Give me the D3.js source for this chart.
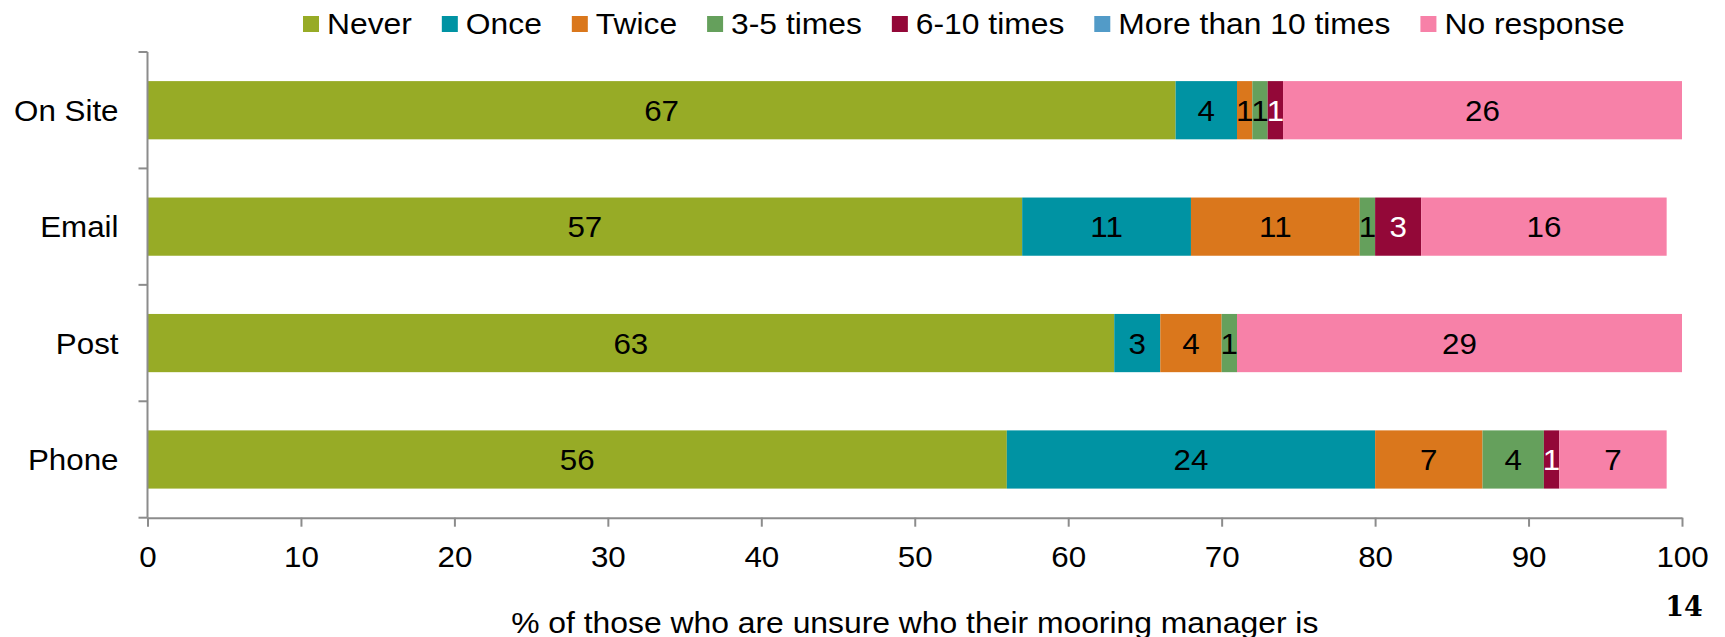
<!DOCTYPE html>
<html>
<head>
<meta charset="utf-8">
<script src="https://cdn.jsdelivr.net/npm/d3@7"></script>
<style>
  html, body { margin: 0; padding: 0; background: #fff; }
  svg { display: block; font-family: "Liberation Sans", Arial, sans-serif; }
</style>
</head>
<body>
<svg id="chart" width="1725" height="637"></svg>
<script>
// Channels through which respondents were contacted
const categories = ["On Site", "Email", "Post", "Phone"];

// Response options (stack order, left to right)
const seriesNames = ["Never", "Once", "Twice", "3-5 times", "6-10 times", "More than 10 times", "No response"];
const seriesColors = ["#97ab26", "#0093a3", "#da771c", "#65a05c", "#930838", "#529bc8", "#f781a8"];
const labelColors = ["#000", "#000", "#000", "#000", "#fff", "#000", "#000"];

// Percentages per channel, one array per response option (order follows categories)
const never      = [67, 57, 63, 56];
const once       = [4, 11, 3, 24];
const twice      = [1, 11, 4, 7];
const threeFive  = [1, 1, 1, 4];
const sixTen     = [1, 3, 0, 1];
const moreThan10 = [0, 0, 0, 0];
const noResponse = [26, 16, 29, 7];

const xTicks = [0, 10, 20, 30, 40, 50, 60, 70, 80, 90, 100];
const xTitle = "% of those who are unsure who their mooring manager is";
const pageNumber = "14";

const seriesValues = [never, once, twice, threeFive, sixTen, moreThan10, noResponse];
const rows = categories.map((c, i) => {
  const r = { category: c };
  seriesNames.forEach((s, k) => { r[s] = seriesValues[k][i]; });
  return r;
});

const svg = d3.select("#chart");
const plot = { left: 147.5, right: 1682, top: 52, bottom: 517.7 };
const wide = 1.08;      // horizontal stretch of the body text
const wideLegend = 1.06;

// Place a text at (x, y) with a horizontal stretch around its anchor
function placeStretched(sel, fx, fy, k) {
  sel.attr("x", 0).attr("y", 0)
    .attr("transform", (d, i) => `translate(${fx(d, i)},${fy(d, i)}) scale(${k},1)`);
}

const x = d3.scaleLinear().domain([0, 100]).range([plot.left, plot.right]);
const y = d3.scaleBand().domain(categories).range([plot.top, plot.bottom]).paddingInner(0.5).paddingOuter(0.25);

const stacked = d3.stack().keys(seriesNames)(rows);
const color = d3.scaleOrdinal().domain(seriesNames).range(seriesColors);
const textColor = d3.scaleOrdinal().domain(seriesNames).range(labelColors);

// Stacked bars
const layers = svg.append("g").selectAll("g")
  .data(stacked)
  .join("g")
  .attr("fill", d => color(d.key));

layers.selectAll("rect")
  .data(d => d.map(v => Object.assign(v, { key: d.key })))
  .join("rect")
  .attr("x", d => x(d[0]))
  .attr("y", d => y(d.data.category))
  .attr("width", d => x(d[1]) - x(d[0]))
  .attr("height", y.bandwidth());

// Segment value labels
layers.selectAll("text")
  .data(d => d.filter(v => v[1] - v[0] > 0))
  .join("text")
  .attr("dy", "0.36em")
  .attr("text-anchor", "middle")
  .attr("font-size", 29)
  .attr("fill", d => textColor(d.key))
  .text(d => d[1] - d[0])
  .call(placeStretched, d => (x(d[0]) + x(d[1])) / 2, d => y(d.data.category) + y.bandwidth() / 2, wide);

const axisColor = "#8c8c8c";

// Horizontal value axis
const xAxis = svg.append("g")
  .attr("transform", `translate(0,${plot.bottom})`)
  .call(d3.axisBottom(x).tickValues(xTicks).tickSize(9).tickSizeOuter(0).tickPadding(19.5));
xAxis.select(".domain").attr("stroke", axisColor).attr("stroke-width", 2);
xAxis.selectAll(".tick line").attr("stroke", axisColor).attr("stroke-width", 2);
xAxis.selectAll(".tick text").attr("font-size", 29).attr("fill", "#000")
  .attr("font-family", "Liberation Sans, Arial, sans-serif")
  .attr("transform", `scale(${wide},1)`);

// Category axis: line with ticks between the bands
const step = y.step();
const bounds = categories.map(c => y(c) - step * y.paddingInner() / 2).concat([plot.bottom]);
const yAxis = svg.append("g");
yAxis.append("line")
  .attr("x1", plot.left).attr("x2", plot.left)
  .attr("y1", plot.top).attr("y2", plot.bottom)
  .attr("stroke", axisColor).attr("stroke-width", 2);
yAxis.selectAll("line.tick")
  .data(bounds)
  .join("line")
  .attr("class", "tick")
  .attr("x1", plot.left - 9).attr("x2", plot.left)
  .attr("y1", d => d).attr("y2", d => d)
  .attr("stroke", axisColor).attr("stroke-width", 2);
yAxis.selectAll("text")
  .data(categories)
  .join("text")
  .attr("dy", "0.36em")
  .attr("text-anchor", "end")
  .attr("font-size", 29)
  .attr("fill", "#000")
  .text(d => d)
  .call(placeStretched, () => 118.5, d => y(d) + y.bandwidth() / 2, wide);

// Axis title
svg.append("text")
  .attr("text-anchor", "middle")
  .attr("font-size", 29.5)
  .attr("fill", "#000")
  .text(xTitle)
  .call(placeStretched, () => (plot.left + plot.right) / 2, () => 633, wide);

// Page number
svg.append("text")
  .attr("x", 1684)
  .attr("y", 616)
  .attr("text-anchor", "middle")
  .attr("font-size", 27)
  .attr("font-weight", "bold")
  .attr("font-family", "DejaVu Serif, Liberation Serif, serif")
  .attr("fill", "#000")
  .text(pageNumber);

// Legend along the top
const legend = svg.append("g");
let lx = 303;
seriesNames.forEach(name => {
  const item = legend.append("g").attr("transform", `translate(${lx},0)`);
  item.append("rect").attr("x", 0).attr("y", 16).attr("width", 16).attr("height", 16).attr("fill", color(name));
  const t = item.append("text")
    .attr("font-size", 30).attr("fill", "#000").text(name)
    .call(placeStretched, () => 24, () => 34, wideLegend);
  lx += 24 + t.node().getComputedTextLength() * wideLegend + 30;
});
</script>
</body>
</html>
